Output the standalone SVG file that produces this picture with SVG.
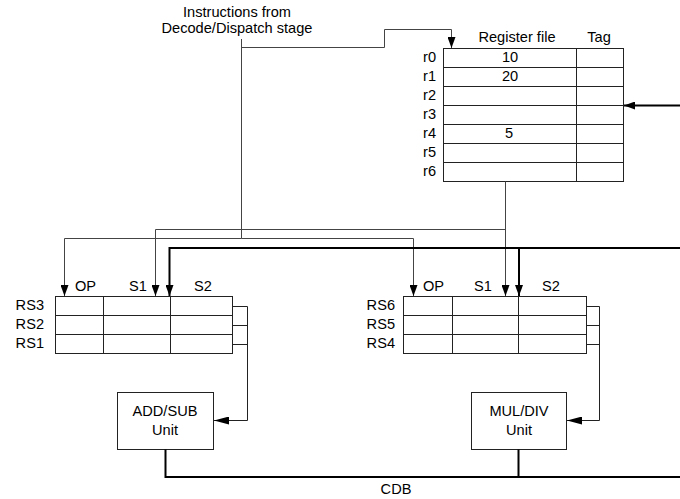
<svg xmlns="http://www.w3.org/2000/svg" width="680" height="499" viewBox="0 0 680 499">
<style>
text{font-family:"Liberation Sans",Arial,sans-serif;font-size:14.6px;fill:#000}
.c{text-anchor:middle}
.r{text-anchor:end}
.tb{fill:#fff;stroke:#222;stroke-width:1}
.ln{fill:none;stroke:#222;stroke-width:1}
.w{fill:none;stroke:#444;stroke-width:1}
.k{fill:none;stroke:#000;stroke-width:2}
</style>
<defs>
<marker id="ah" viewBox="0 0 11 8" refX="11" refY="4" markerWidth="11" markerHeight="8" markerUnits="userSpaceOnUse" orient="auto">
<path d="M0,0 L11,4 L0,8 z" fill="#000"/>
</marker>
<marker id="ahl" viewBox="0 0 15 8" refX="15" refY="4" markerWidth="15" markerHeight="8" markerUnits="userSpaceOnUse" orient="auto">
<path d="M0,0 L15,4 L0,8 z" fill="#000"/>
</marker>
</defs>
<rect width="680" height="499" fill="#fff"/>

<g id="instr-label">
<text class="c" x="237" y="17">Instructions from</text>
<text class="c" x="237" y="33">Decode/Dispatch stage</text>
</g>

<g id="register-file">
<rect class="tb" x="443.5" y="48.5" width="180" height="133"/>
<path class="ln" d="M576.5,48.5V181.5 M443.5,67.5H623.5 M443.5,86.5H623.5 M443.5,105.5H623.5 M443.5,124.5H623.5 M443.5,143.5H623.5 M443.5,162.5H623.5"/>
<text class="c" x="517" y="42">Register file</text>
<text class="c" x="599" y="42">Tag</text>
<text class="r" x="436" y="62">r0</text>
<text class="r" x="436" y="81">r1</text>
<text class="r" x="436" y="100">r2</text>
<text class="r" x="436" y="119">r3</text>
<text class="r" x="436" y="138">r4</text>
<text class="r" x="436" y="157">r5</text>
<text class="r" x="436" y="176">r6</text>
<text class="c" x="510" y="62">10</text>
<text class="c" x="510" y="81">20</text>
<text class="c" x="509" y="138">5</text>
</g>

<g id="rs-left">
<rect class="tb" x="55.5" y="296.5" width="177" height="57"/>
<path class="ln" d="M103.5,296.5V353.5 M170.5,296.5V353.5 M55.5,315.5H232.5 M55.5,334.5H232.5"/>
<text x="75" y="291">OP</text>
<text class="c" x="138" y="291">S1</text>
<text class="c" x="203" y="291">S2</text>
<text class="r" x="44" y="310">RS3</text>
<text class="r" x="44" y="329">RS2</text>
<text class="r" x="44" y="348">RS1</text>
</g>

<g id="rs-right">
<rect class="tb" x="403.5" y="296.5" width="183" height="57"/>
<path class="ln" d="M452.5,296.5V353.5 M518.5,296.5V353.5 M403.5,315.5H586.5 M403.5,334.5H586.5"/>
<text x="423" y="291">OP</text>
<text class="c" x="483" y="291">S1</text>
<text class="c" x="551" y="291">S2</text>
<text class="r" x="395" y="310">RS6</text>
<text class="r" x="395" y="329">RS5</text>
<text class="r" x="395" y="348">RS4</text>
</g>

<g id="add-sub">
<rect class="tb" x="117.5" y="392.5" width="96" height="57"/>
<text class="c" x="165" y="416">ADD/SUB</text>
<text class="c" x="165" y="435">Unit</text>
</g>

<g id="mul-div">
<rect class="tb" x="471.5" y="392.5" width="95" height="57"/>
<text class="c" x="519" y="416">MUL/DIV</text>
<text class="c" x="519" y="435">Unit</text>
</g>

<g id="connectors">
<path class="w" d="M241.5,39V238.5"/>
<path class="w" d="M241.5,47.5H384.5V29.5H451.5V48" marker-end="url(#ah)"/>
<path class="k" d="M680,105.5H624" marker-end="url(#ah)"/>
<path class="w" d="M505.5,181.5V296" marker-end="url(#ah)"/>
<path class="w" d="M505.5,229.5H155.5V296" marker-end="url(#ah)"/>
<path class="w" d="M241.5,238.5H64.5V296" marker-end="url(#ah)"/>
<path class="w" d="M241.5,238.5H413.5V296" marker-end="url(#ah)"/>
<path class="k" d="M680,248H169.5V296" marker-end="url(#ah)"/>
<path class="k" d="M519,248V296" marker-end="url(#ah)"/>
<path class="ln" d="M232.5,306.5H247.5 M232.5,325.5H247.5 M232.5,344.5H247.5"/>
<path class="ln" d="M247.5,306.5V420.5H214" marker-end="url(#ahl)"/>
<path class="ln" d="M586.5,306.5H599.5 M586.5,325.5H599.5 M586.5,344.5H599.5"/>
<path class="ln" d="M599.5,306.5V420.5H567" marker-end="url(#ahl)"/>
<path class="k" d="M165.5,449.5V477H680 M518.5,449.5V477"/>
</g>

<g id="cdb-label">
<text class="c" x="396" y="494">CDB</text>
</g>
</svg>
